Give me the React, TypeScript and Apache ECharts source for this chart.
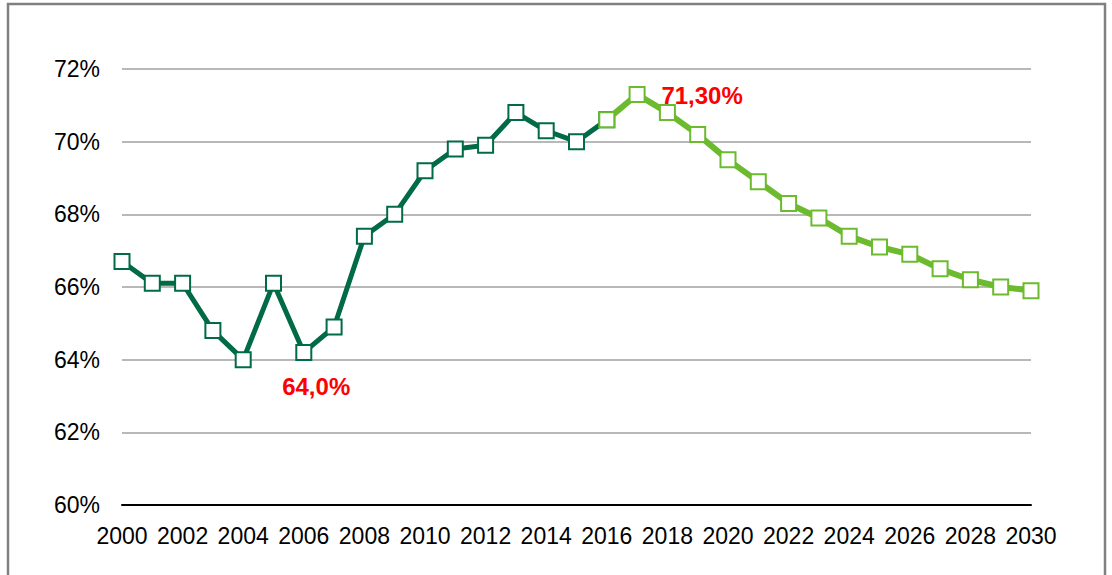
import React, { useEffect, useRef } from "react";
import * as echarts from "echarts";

const years: string[] = [];
for (let y = 2000; y <= 2030; y++) years.push(String(y));

const historic: (number | null)[] = [
  66.7, 66.1, 66.1, 64.8, 64.0, 66.1, 64.2, 64.9, 67.4, 68.0,
  69.2, 69.8, 69.9, 70.8, 70.3, 70.0, 70.6,
];
const forecast: number[] = [
  70.6, 71.3, 70.8, 70.2, 69.5, 68.9, 68.3, 67.9, 67.4, 67.1,
  66.9, 66.5, 66.2, 66.0, 65.9,
];
const forecastStart = 2016;
const minLabel = "64,0%";
const minYear = 2004;
const maxLabel = "71,30%";
const maxYear = 2017;

const DARK = "#006B45";
const LIGHT = "#6CBB2E";
const FONT = "'Liberation Sans', Arial, sans-serif";

export default function App() {
  const ref = useRef<HTMLDivElement>(null);
  useEffect(() => {
    if (!ref.current) return;
    const chart = echarts.init(ref.current, undefined, { renderer: "svg" });

    const darkData: any[] = years.map((y, i) => {
      const v = i < historic.length ? historic[i] : null;
      if (Number(y) === minYear) {
        return {
          value: v,
          label: {
            show: true,
            formatter: minLabel,
            position: "inside",
            offset: [73, 27],
            color: "#FF0000",
            fontWeight: "bold",
            fontSize: 24,
            fontFamily: FONT,
          },
        };
      }
      return v;
    });
    const startIdx = forecastStart - 2000;
    const lightData: any[] = years.map((y, i) => {
      const v = i >= startIdx ? forecast[i - startIdx] : null;
      if (Number(y) === maxYear) {
        return {
          value: v,
          label: {
            show: true,
            formatter: maxLabel,
            position: "inside",
            offset: [65, 1],
            color: "#FF0000",
            fontWeight: "bold",
            fontSize: 24,
            fontFamily: FONT,
          },
        };
      }
      return v;
    });

    chart.setOption({
      animation: false,
      backgroundColor: "#ffffff",
      grid: { left: 122, right: 81, top: 69, bottom: 70, containLabel: false },
      graphic: [
        {
          type: "rect",
          shape: { x: 8, y: 4, width: 1097, height: 600 },
          style: { fill: "none", stroke: "#808080", lineWidth: 2.5 },
          silent: true,
          z: -1,
        },
      ],
      xAxis: {
        type: "category",
        data: years,
        boundaryGap: false,
        axisLine: { show: true, lineStyle: { color: "#000000", width: 2 } },
        axisTick: { show: false },
        axisLabel: {
          interval: 1,
          color: "#000000",
          fontSize: 23,
          fontFamily: FONT,
          margin: 19,
        },
        splitLine: { show: false },
      },
      yAxis: {
        type: "value",
        min: 60,
        max: 72,
        interval: 2,
        axisLine: { show: false },
        axisTick: { show: false },
        axisLabel: {
          formatter: "{value}%",
          color: "#000000",
          fontSize: 23,
          fontFamily: FONT,
          margin: 22,
        },
        splitLine: { show: true, lineStyle: { color: "#A0A0A0", width: 1.5 } },
      },
      series: [
        {
          type: "line",
          data: darkData,
          symbol: "rect",
          symbolSize: 15,
          showAllSymbol: true,
          lineStyle: { color: DARK, width: 5 },
          itemStyle: { color: "#ffffff", borderColor: DARK, borderWidth: 2 },
          z: 2,
        },
        {
          type: "line",
          data: lightData,
          symbol: "rect",
          symbolSize: 15,
          showAllSymbol: true,
          lineStyle: { color: LIGHT, width: 6 },
          itemStyle: { color: "#ffffff", borderColor: LIGHT, borderWidth: 2 },
          z: 3,
        },
      ],
    });
    return () => chart.dispose();
  }, []);
  return (
    <div
      ref={ref}
      style={{ position: "fixed", left: 0, top: 0, width: 1112, height: 575 }}
    />
  );
}
